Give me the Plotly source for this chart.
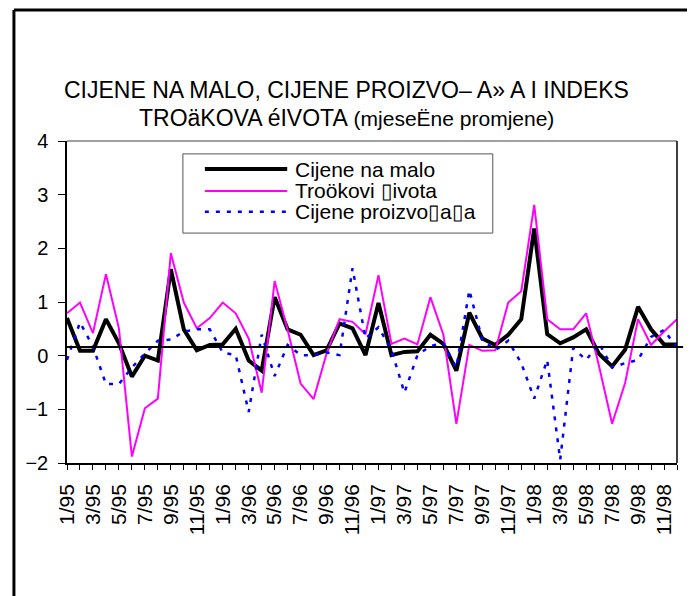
import plotly.graph_objects as go

# ---- data ----
months = [f"{m}/{y}" for y in ("95", "96", "97", "98") for m in range(1, 13)]
tick_labels = [lab if i % 2 == 0 else "" for i, lab in enumerate(months)]

cijene_na_malo = [0.70, 0.09, 0.09, 0.68, 0.23, -0.39, 0.00, -0.09, 1.61, 0.49, 0.10, 0.20,
                  0.21, 0.50, -0.09, -0.28, 1.09, 0.49, 0.39, 0.01, 0.10, 0.60, 0.51, 0.01,
                  0.98, 0.01, 0.07, 0.08, 0.39, 0.22, -0.28, 0.80, 0.32, 0.20, 0.39, 0.68,
                  2.37, 0.40, 0.23, 0.34, 0.49, 0.03, -0.20, 0.11, 0.91, 0.49, 0.21, 0.21]

troskovi_zivota = [0.79, 0.99, 0.42, 1.52, 0.51, -1.88, -0.98, -0.80, 1.91, 0.99, 0.51, 0.70,
                   0.99, 0.79, 0.32, -0.69, 1.39, 0.48, -0.52, -0.81, 0.04, 0.68, 0.63, 0.40,
                   1.50, 0.22, 0.32, 0.21, 1.09, 0.39, -1.27, 0.20, 0.09, 0.10, 0.99, 1.20,
                   2.81, 0.68, 0.49, 0.49, 0.79, -0.20, -1.27, -0.51, 0.68, 0.20, 0.45, 0.68]

cijene_proizvodaca = [-0.08, 0.62, 0.17, -0.53, -0.53, -0.22, 0.04, 0.28, 0.30, 0.45, 0.49, 0.49,
                      0.06, 0.01, -1.05, 0.39, -0.38, 0.20, 0.01, 0.01, 0.06, 0.01, 1.63, 0.32,
                      0.53, 0.10, -0.69, 0.01, 0.18, 0.23, -0.22, 1.22, 0.29, 0.10, 0.28, -0.14,
                      -0.80, -0.08, -1.94, 0.14, -0.08, 0.23, -0.22, -0.14, -0.08, 0.35, 0.48, 0.14]

ref_line_value = 0.16

series_names = ["Cijene na malo", "Tro\u00f6kovi \u25afivota", "Cijene proizvo\u25afa\u25afa"]
title_line1 = "CIJENE NA MALO, CIJENE PROIZVO\u2013 A\u00bb A I INDEKS"
title_line2a = "TRO\u00e4KOVA \u00e9IVOTA"
title_line2b = " (mjese\u00cbne promjene)"

FONT = "Liberation Sans, Arial, sans-serif"
x_idx = list(range(len(months)))

styles = [dict(color="black", width=4),
          dict(color="#FF00FF", width=2),
          dict(color="#0000FF", width=2.5, dash="4px,7px")]
series = [cijene_na_malo, troskovi_zivota, cijene_proizvodaca]

fig = go.Figure()
for name, vals, st in zip(series_names, series, styles):
    fig.add_trace(go.Scatter(x=x_idx, y=vals, mode="lines", name=name, line=st,
                             showlegend=False))

# horizontal reference line
fig.add_shape(type="line", xref="paper", yref="y", x0=0, x1=1.01,
              y0=ref_line_value, y1=ref_line_value, line=dict(color="black", width=2))
# gray top border / black right border of plot area
fig.add_shape(type="line", xref="paper", yref="paper", x0=0, x1=1, y0=1, y1=1,
              line=dict(color="#808080", width=1.5))
fig.add_shape(type="line", xref="paper", yref="paper", x0=1, x1=1, y0=0, y1=1,
              line=dict(color="black", width=1.5))
# outer frame (top and left)
fig.add_shape(type="line", xref="paper", yref="paper", x0=-0.087, x1=1.05, y0=1.407, y1=1.407,
              line=dict(color="black", width=3))
fig.add_shape(type="line", xref="paper", yref="paper", x0=-0.087, x1=-0.087, y0=1.407, y1=-0.45,
              line=dict(color="black", width=3))

# legend (drawn box)
fig.add_shape(type="rect", xref="paper", yref="paper", x0=0.190, x1=0.698, y0=0.714, y1=0.960,
              line=dict(color="#555555", width=1), fillcolor="white", layer="above")
legend_y = [0.913, 0.845, 0.780]
for name, st, ly in zip(series_names, styles, legend_y):
    fig.add_shape(type="line", xref="paper", yref="paper", x0=0.226, x1=0.361, y0=ly, y1=ly,
                  line=st, layer="above")
    fig.add_annotation(xref="paper", yref="paper", x=0.370, y=ly, xanchor="left",
                       yanchor="middle", showarrow=False, text=name,
                       font=dict(family=FONT, size=21, color="black"))

fig.add_annotation(xref="paper", yref="paper", x=0.459, y=1.205, showarrow=False,
                   text=title_line1, font=dict(family=FONT, size=23, color="black"))
fig.add_annotation(xref="paper", yref="paper", x=0.459, y=1.118, showarrow=False,
                   text=title_line2a + "<span style='font-size:21px'>" + title_line2b + "</span>",
                   font=dict(family=FONT, size=23, color="black"))

fig.update_layout(
    width=687, height=588, autosize=False,
    margin=dict(l=59, r=18, t=133, b=133),
    paper_bgcolor="white", plot_bgcolor="white",
    font=dict(family=FONT, color="black"),
    showlegend=False,
    xaxis=dict(range=[0, len(months) - 1], tickmode="array", tickvals=x_idx,
               ticktext=tick_labels, tickangle=-90, ticks="outside", ticklen=5,
               tickcolor="black", showline=True, linecolor="black", linewidth=1.5,
               showgrid=False, zeroline=False, ticklabelstandoff=6,
               tickfont=dict(family=FONT, size=21)),
    yaxis=dict(range=[-2, 4], dtick=1, ticks="outside", ticklen=7, tickcolor="black",
               showline=True, linecolor="black", linewidth=1.5,
               showgrid=False, zeroline=False, ticklabelstandoff=6,
               tickfont=dict(family=FONT, size=20)),
)

fig.write_html("out.html")
